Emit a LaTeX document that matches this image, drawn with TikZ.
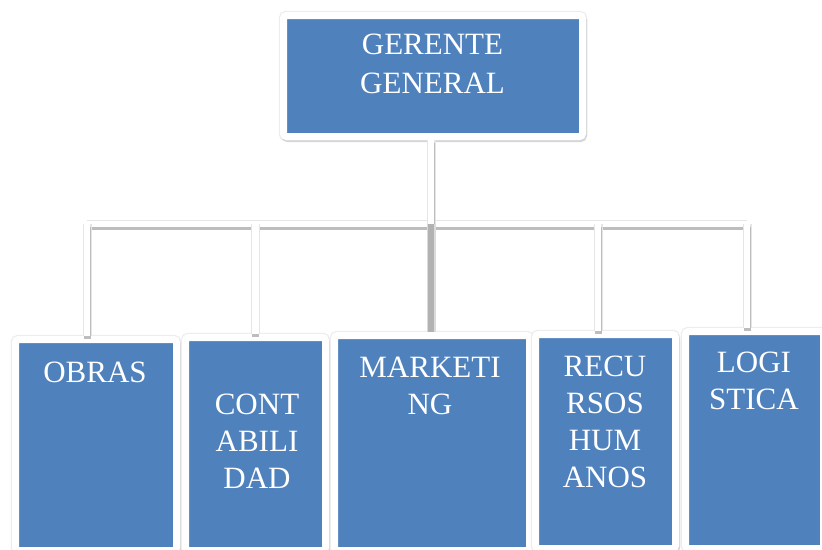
\documentclass[tikz,border=0pt]{standalone}
\usepackage{fontspec}
\setmainfont{Liberation Serif}
\definecolor{unitblue}{RGB}{79,129,189}

\begin{document}
\begin{tikzpicture}[x=1pt,y=-1pt,
    unit node/.style={fill=unitblue,draw=white,line width=7pt,rounded corners=3pt,
        preaction={draw=black!7,line width=9.5pt},
        preaction={draw=black!16,line width=7pt,transform canvas={xshift=1pt,yshift=-2pt}}},
    unit text/.style={text=white,font=\fontsize{31}{37}\selectfont,align=center,inner sep=0pt,anchor=north},
    link/.style={-,draw=white,line width=6.5pt,
        preaction={draw=black!10,line width=9pt},
        preaction={draw=black!26,line width=7pt,transform canvas={yshift=-2.5pt}}},
    trunk/.style={-,draw=black!30,line width=6pt,preaction={draw=black!14,line width=9pt}}]

                \useasboundingbox[fill=white] (0,0) rectangle (822,549);

                % boxes
                \node[unit node, minimum width=299pt, minimum height=121pt] (gerente) at (433,76) {};
                \node[unit node, minimum width=161pt, minimum height=211pt] (obras) at (96,445) {};
                \node[unit node, minimum width=140pt, minimum height=213pt] (contab) at (255.5,444) {};
                \node[unit node, minimum width=195pt, minimum height=215pt] (marketing) at (432,443) {};
                \node[unit node, minimum width=140pt, minimum height=214pt] (recursos) at (605.5,441.5) {};
                \node[unit node, minimum width=138pt, minimum height=217pt] (logistica) at (754.5,440) {};

                % texts
                \node[unit text, font=\fontsize{31}{39}\selectfont] (gerente text) at (432.5,34) {GERENTE\\GENERAL};
                \node[unit text] (obras text) at (95,362) {OBRAS};
                \node[unit text] (contab text) at (257,394) {CONT\\ABILI\\DAD};
                \node[unit text] (marketing text) at (430,357) {MARKETI\\NG};
                \node[unit text] (recursos text) at (605,356) {RECU\\RSOS\\HUM\\ANOS};
                \node[unit text] (logistica text) at (754,352) {LOGI\\STICA};

                % connectors
                \coordinate (bus left) at (87,224);
                \coordinate (bus right) at (747,224);
                \coordinate (gerente foot) at ([xshift=-2pt]gerente.south);

                \draw[link, line cap=rect] (bus left) -- (bus right);
                \draw[link] (gerente foot) -- (gerente foot |- bus left);

                \foreach \unit/\dx in {obras/-9,contab/0,recursos/-7.5,logistica/-7.5}{
                    \coordinate (\unit\space top) at ([xshift=\dx pt]\unit.north);
                    \draw[link] (\unit\space top |- bus left) -- (\unit\space top);
                }

                \coordinate (marketing top) at ([xshift=-1pt]marketing.north);
                \draw[trunk] (marketing top |- bus left) -- (marketing top);

\end{tikzpicture}
\end{document}
